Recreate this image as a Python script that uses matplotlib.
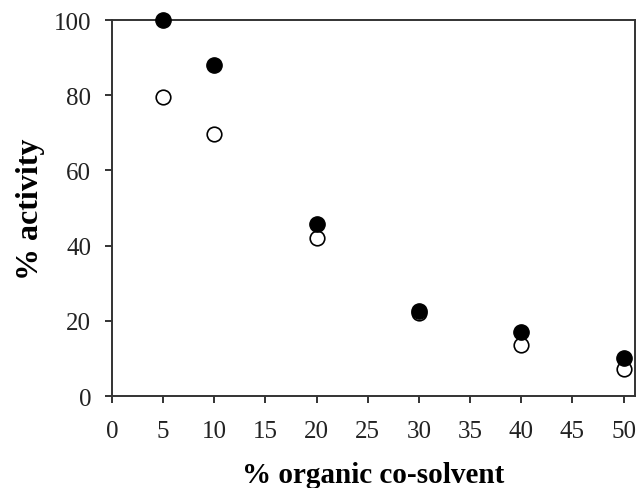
import matplotlib
matplotlib.use("Agg")
import matplotlib.pyplot as plt

solvent = [5, 10, 20, 30, 40, 50]
filled_activity = [100, 88, 45.8, 22.7, 17.1, 10.0]
open_activity = [79.4, 69.7, 42.0, 22.0, 13.6, 7.2]
xticks = list(range(0, 55, 5))
yticks = list(range(0, 120, 20))

plt.rcParams['font.family'] = ['Liberation Serif', 'DejaVu Serif']

fig = plt.figure(figsize=(6.4, 4.89), dpi=100)
ax = fig.add_axes([0.175, 0.188, 0.817, 0.769])

ax.plot(solvent, open_activity, 'o', markersize=10.5, markerfacecolor='white',
        markeredgecolor='black', markeredgewidth=1.2, clip_on=False, zorder=3)
ax.plot(solvent, filled_activity, 'o', markersize=11, markerfacecolor='black',
        markeredgecolor='black', clip_on=False, zorder=4)

ax.set_xlim(0, 51.1)
ax.set_ylim(0, 100)
ax.set_xticks(xticks)
ax.set_yticks(yticks)
for s in ax.spines.values():
    s.set_color('#333333')
    s.set_linewidth(1.4)
ax.tick_params(direction='out', length=5, width=1.4, color='#333333',
               labelsize=18, labelcolor='#222222')
ax.tick_params(axis='x', pad=12)
ax.tick_params(axis='y', pad=10)
ax.set_xlabel('% organic co-solvent', fontsize=21, fontweight='bold', labelpad=14)
ax.set_ylabel('% activity', fontsize=23, fontweight='bold', labelpad=6)

fig.savefig('out.png', dpi=100)
